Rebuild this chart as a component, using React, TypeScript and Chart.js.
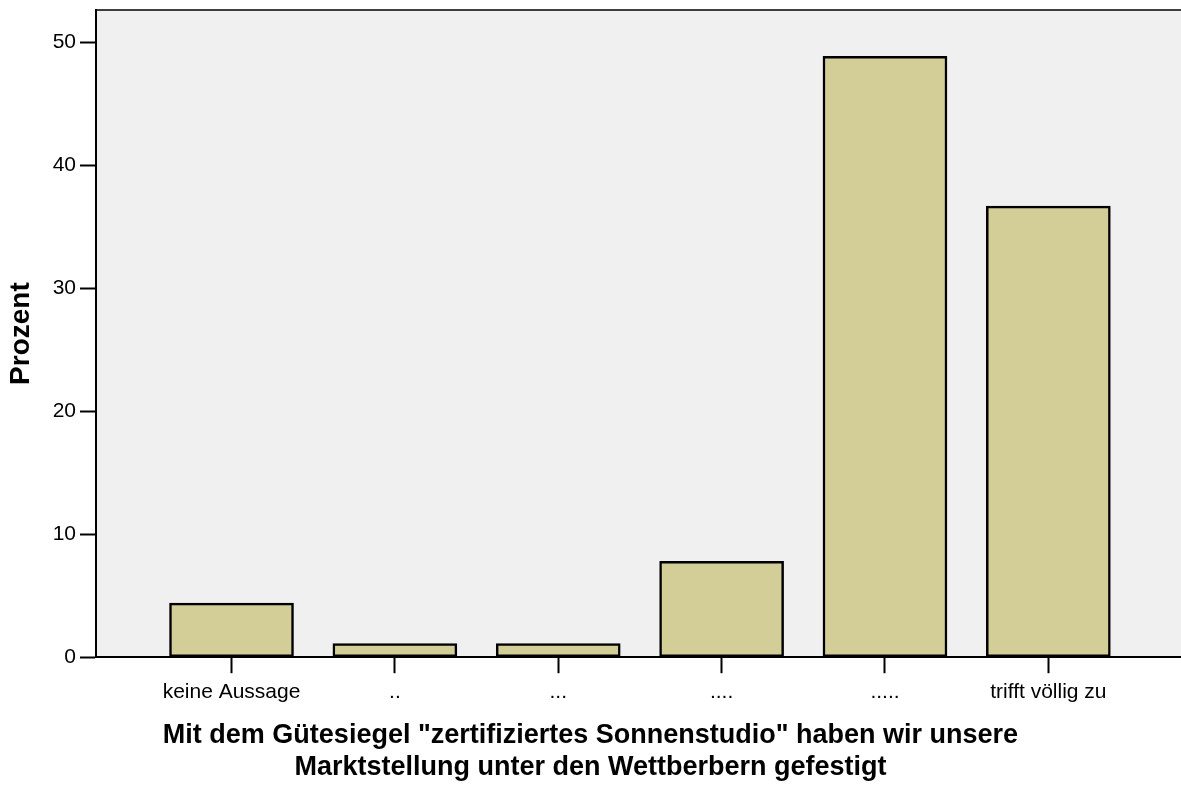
import React, { useEffect, useRef } from "react";
import { Chart, registerables } from "chart.js";

Chart.register(...registerables);

const CATEGORIES: string[] = ["keine Aussage", "..", "...", "....", ".....", "trifft völlig zu"];
const PERCENT: number[] = [4.4, 1.1, 1.1, 7.8, 48.9, 36.7];
const Y_TICKS: number[] = [0, 10, 20, 30, 40, 50];
const Y_TITLE = "Prozent";
const X_TITLE: string[] = [
  'Mit dem Gütesiegel "zertifiziertes Sonnenstudio" haben wir unsere',
  "Marktstellung unter den Wettberbern gefestigt",
];

const FONT = "'Liberation Sans', Arial, Helvetica, sans-serif";

const bgPlugin = {
  id: "plotBg",
  beforeDraw(chart: any) {
    const { ctx, chartArea } = chart;
    ctx.save();
    ctx.fillStyle = "#f0f0f0";
    ctx.fillRect(chartArea.left, chartArea.top, chartArea.right - chartArea.left, chartArea.bottom - chartArea.top);
    ctx.restore();
  },
  afterDraw(chart: any) {
    const { ctx, chartArea } = chart;
    ctx.save();
    ctx.strokeStyle = "#000";
    ctx.lineWidth = 1.5;
    ctx.beginPath();
    ctx.moveTo(chartArea.left, chartArea.top);
    ctx.lineTo(chartArea.right, chartArea.top);
    ctx.stroke();
    ctx.restore();
  },
};

export default function App() {
  const ref = useRef<HTMLCanvasElement | null>(null);
  useEffect(() => {
    if (!ref.current) return;
    const chart = new Chart(ref.current, {
      type: "bar",
      data: {
        datasets: [
          {
            data: PERCENT.map((v, i) => ({ x: i, y: v })),
            backgroundColor: "#d3ce97",
            borderColor: "#000000",
            borderWidth: 2.5,
            borderSkipped: false,
            barThickness: 124,
          } as any,
        ],
      },
      plugins: [bgPlugin],
      options: {
        animation: false,
        responsive: false,
        layout: { padding: { top: 10, right: 0, left: 0, bottom: 1 } },
        plugins: {
          legend: { display: false },
          tooltip: { enabled: false },
          title: {
            display: true,
            position: "bottom",
            text: X_TITLE,
            color: "#000",
            font: { family: FONT, size: 27, weight: "bold", lineHeight: 1.2 },
            padding: { top: 12, bottom: 0 },
          },
        },
        scales: {
          x: {
            type: "linear",
            min: -0.8295,
            max: 5.812,
            offset: false,
            grid: {
              offset: false,
              drawOnChartArea: false,
              drawTicks: true,
              tickLength: 16,
              tickWidth: 2,
              tickColor: "#000",
            },
            border: { display: true, color: "#000", width: 2 },
            afterBuildTicks: (scale: any) => {
              scale.ticks = CATEGORIES.map((_, i) => ({ value: i }));
            },
            afterFit: (scale: any) => {
              scale.height = 50;
              scale.paddingLeft = 0;
              scale.paddingRight = 0;
            },
            ticks: {
              autoSkip: false,
              maxRotation: 0,
              minRotation: 0,
              padding: 6,
              color: "#000",
              font: { family: FONT, size: 21 },
              callback: (_v: any, index: number) => CATEGORIES[index],
            },
          },
          y: {
            type: "linear",
            min: 0,
            max: 52.66,
            grid: {
              drawOnChartArea: false,
              drawTicks: true,
              tickLength: 16,
              tickWidth: 2,
              tickColor: "#000",
            },
            border: { display: true, color: "#000", width: 2 },
            afterBuildTicks: (scale: any) => {
              scale.ticks = Y_TICKS.map((v) => ({ value: v }));
            },
            afterFit: (scale: any) => {
              scale.width = 96;
              scale.paddingTop = 0;
              scale.paddingBottom = 0;
            },
            ticks: {
              padding: 4,
              color: "#000",
              font: { family: FONT, size: 21 },
              callback: (v: any) => String(v),
            },
            title: {
              display: true,
              text: Y_TITLE,
              color: "#000",
              font: { family: FONT, size: 28, weight: "bold", lineHeight: 1.2 },
              padding: { top: 4, bottom: 0 },
            },
          },
        },
      } as any,
    });
    return () => chart.destroy();
  }, []);
  return (
    <div style={{ position: "absolute", left: 0, top: 0, width: 1181, height: 785, background: "#fff" }}>
      <canvas ref={ref} width={1181} height={785} style={{ width: 1181, height: 785, display: "block" }} />
    </div>
  );
}
